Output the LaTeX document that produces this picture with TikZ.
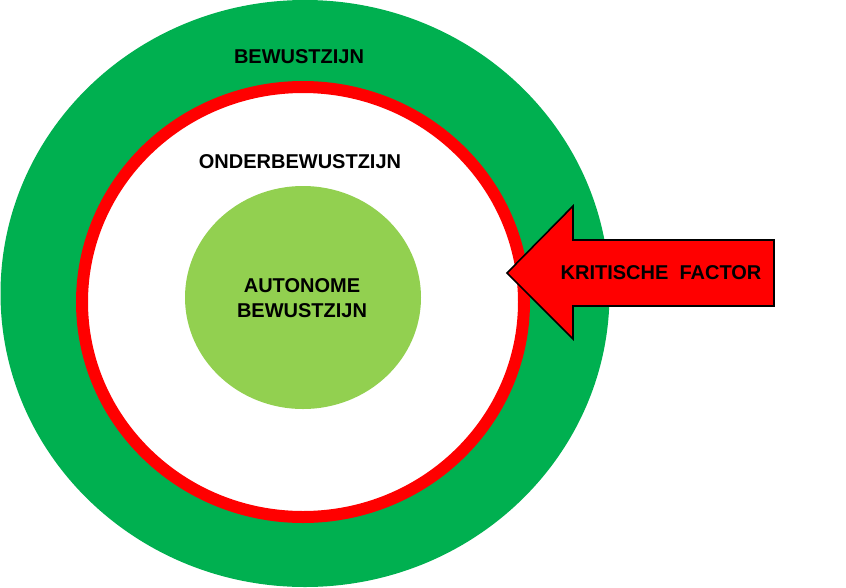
\documentclass[tikz,border=0pt]{standalone}
\usepackage{fontspec}
\setmainfont{Liberation Sans}
\usetikzlibrary{shapes.geometric}
\definecolor{outergreen}{HTML}{00B050}
\definecolor{lightgreen}{HTML}{92D050}
\definecolor{ringred}{HTML}{FF0000}
\tikzset{
  blob/.style={ellipse, inner sep=0pt, outer sep=0pt},
  lbl/.style={font=\bfseries\fontsize{20}{25}\selectfont, text=black, align=center, inner sep=0pt},
  arrowshape/.style={fill=ringred, draw=black, line width=1.6pt, line join=miter}
}
\begin{document}
\begin{tikzpicture}[x=1pt,y=-1pt]
\useasboundingbox (0,0) rectangle (846,587);
\node[blob, fill=outergreen, minimum width=609, minimum height=587] (outer) at (305,293.5) {};
\node[blob, fill=white, draw=ringred, line width=12pt, minimum width=442, minimum height=430] (ring) at (303,302) {};
\node[blob, fill=lightgreen, minimum width=236, minimum height=223] (core) at (303,297.5) {};
\coordinate (tip) at (507,273);
\draw[arrowshape] (tip) -- (573,206) -- (573,240) -- (774,240) -- (774,306) -- (573,306) -- (573,339) -- cycle;
\node[lbl] (t1) at (299,57) {BEWUSTZIJN};
\node[lbl] (t2) at (300,162) {ONDERBEWUSTZIJN};
\node[lbl] (t3) at (302,298) {AUTONOME\\BEWUSTZIJN};
\node[lbl] (t4) at (661,273) {KRITISCHE\ \ FACTOR};
\end{tikzpicture}
\end{document}
